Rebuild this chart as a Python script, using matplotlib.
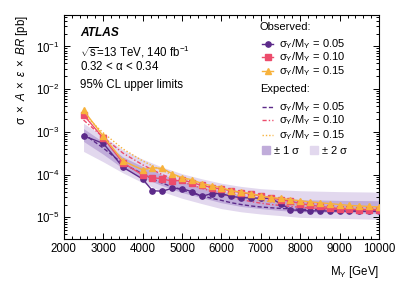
import matplotlib
matplotlib.use("Agg")
import matplotlib.pyplot as plt
from matplotlib.ticker import MultipleLocator, LogLocator, NullFormatter

# ---- data ------------------------------------------------------------------
MASS = [2500, 3000, 3500, 4000, 4250, 4500, 4750, 5000, 5250, 5500, 5750, 6000,
        6250, 6500, 6750, 7000, 7250, 7500, 7750, 8000, 8250, 8500, 8750, 9000,
        9250, 9500, 9750, 10000]

obs_005 = [8.1e-4, 5.4e-4, 1.5e-4, 7.9e-5, 4.2e-5, 4.1e-5, 4.8e-5, 4.7e-5, 4.0e-5,
           3.1e-5, 3.6e-5, 3.6e-5, 3.1e-5, 2.9e-5, 2.85e-5, 2.8e-5, 2.8e-5, 2.1e-5,
           1.5e-5, 1.45e-5, 1.42e-5, 1.42e-5, 1.4e-5, 1.4e-5, 1.4e-5, 1.38e-5,
           1.38e-5, 1.38e-5]
obs_010 = [2.5e-3, 7.2e-4, 1.9e-4, 9.8e-5, 8.5e-5, 8.0e-5, 7.0e-5, 7.5e-5, 6.5e-5,
           5.6e-5, 5.0e-5, 4.6e-5, 4.2e-5, 3.8e-5, 3.5e-5, 3.2e-5, 2.9e-5, 2.6e-5,
           2.4e-5, 2.1e-5, 1.95e-5, 1.8e-5, 1.7e-5, 1.6e-5, 1.55e-5, 1.5e-5,
           1.5e-5, 1.5e-5]
obs_015 = [3.2e-3, 8.0e-4, 2.1e-4, 1.3e-4, 1.45e-4, 1.4e-4, 1.05e-4, 8.5e-5, 7.6e-5,
           6.2e-5, 5.5e-5, 5.0e-5, 4.2e-5, 3.9e-5, 3.6e-5, 3.2e-5, 2.9e-5, 2.8e-5,
           2.6e-5, 2.45e-5, 2.3e-5, 2.2e-5, 2.1e-5, 2.0e-5, 1.9e-5, 1.85e-5,
           1.8e-5, 1.75e-5]

exp_005 = [9.0e-4, 4.2e-4, 1.8e-4, 1.05e-4, 8.0e-5, 6.3e-5, 5.2e-5, 4.4e-5, 3.7e-5,
           3.2e-5, 2.8e-5, 2.5e-5, 2.2e-5, 2.0e-5, 1.85e-5, 1.75e-5, 1.68e-5,
           1.62e-5, 1.58e-5, 1.55e-5, 1.52e-5, 1.5e-5, 1.48e-5, 1.46e-5, 1.45e-5,
           1.44e-5, 1.43e-5, 1.42e-5]
exp_010 = [1.9e-3, 7.5e-4, 3.2e-4, 1.7e-4, 1.3e-4, 1.0e-4, 8.2e-5, 6.8e-5, 5.7e-5,
           4.8e-5, 4.1e-5, 3.5e-5, 3.0e-5, 2.6e-5, 2.35e-5, 2.15e-5, 2.0e-5, 1.9e-5,
           1.8e-5, 1.72e-5, 1.66e-5, 1.62e-5, 1.58e-5, 1.55e-5, 1.53e-5, 1.51e-5,
           1.5e-5, 1.48e-5]
exp_015 = [2.6e-3, 9.5e-4, 4.0e-4, 2.1e-4, 1.6e-4, 1.25e-4, 1.0e-4, 8.3e-5, 6.9e-5,
           5.8e-5, 4.9e-5, 4.2e-5, 3.6e-5, 3.1e-5, 2.75e-5, 2.5e-5, 2.3e-5, 2.15e-5,
           2.0e-5, 1.9e-5, 1.82e-5, 1.76e-5, 1.7e-5, 1.66e-5, 1.62e-5, 1.6e-5,
           1.58e-5, 1.56e-5]

BAND_MASS = [2500, 3000, 3500, 4000, 4500, 5000, 5500, 6000, 6500, 7000, 7500,
             8000, 9000, 10000]
two_lo = [3.5e-4, 2.0e-4, 1.1e-4, 6.5e-5, 4.0e-5, 2.8e-5, 2.1e-5, 1.6e-5, 1.35e-5,
          1.2e-5, 1.1e-5, 1.0e-5, 9.5e-6, 9.0e-6]
two_hi = [1.6e-3, 8.0e-4, 3.8e-4, 2.3e-4, 1.5e-4, 1.05e-4, 8.0e-5, 6.3e-5, 5.3e-5,
          4.7e-5, 4.4e-5, 4.2e-5, 4.0e-5, 3.9e-5]
one_lo = [6.0e-4, 3.0e-4, 1.4e-4, 8.5e-5, 5.5e-5, 3.8e-5, 2.9e-5, 2.2e-5, 1.8e-5,
          1.6e-5, 1.45e-5, 1.35e-5, 1.3e-5, 1.25e-5]
one_hi = [1.2e-3, 5.8e-4, 2.6e-4, 1.55e-4, 1.0e-4, 7.0e-5, 5.2e-5, 4.1e-5, 3.4e-5,
          3.0e-5, 2.8e-5, 2.6e-5, 2.5e-5, 2.45e-5]

WIDTHS = ["0.05", "0.10", "0.15"]

# ---- style -----------------------------------------------------------------
PURPLE, PINK, ORANGE = "#5c2a8a", "#ec4c6c", "#f7b23c"
BAND1, BAND2 = "#c0acda", "#e2d8ee"
FS = 8.3
LFS = 8.0
plt.rcParams.update({
    "font.family": "Liberation Sans", "font.size": FS,
    "mathtext.fontset": "custom", "mathtext.rm": "Liberation Sans",
    "mathtext.it": "Liberation Sans:italic", "mathtext.bf": "Liberation Sans:bold",
})

fig = plt.figure(figsize=(3.99, 2.86), dpi=100)
ax = fig.add_axes([0.160, 0.164, 0.790, 0.784])

ax.fill_between(BAND_MASS, two_lo, two_hi, color=BAND2, lw=0, zorder=1)
ax.fill_between(BAND_MASS, one_lo, one_hi, color=BAND1, lw=0, zorder=2)

exp_styles = [(PURPLE, (0, (3, 1.6))), (PINK, (0, (3, 1.5, 1, 1.5))), (ORANGE, (0, (1, 1.4)))]
for vals, (c, ls) in zip([exp_005, exp_010, exp_015], exp_styles):
    ax.plot(MASS, vals, color=c, ls=ls, lw=1.0, zorder=3)

obs_styles = [(PURPLE, "o", 3.8), (PINK, "s", 3.8), (ORANGE, "^", 4.2)]
for vals, (c, m, ms) in zip([obs_005, obs_010, obs_015], obs_styles):
    ax.plot(MASS, vals, color=c, marker=m, ms=ms, lw=1.0, zorder=4)

ax.set_yscale("log")
ax.set_xlim(2000, 10000)
ax.set_ylim(3.1e-6, 0.55)
ax.xaxis.set_major_locator(MultipleLocator(1000))
ax.xaxis.set_minor_locator(MultipleLocator(200))
ax.yaxis.set_major_locator(LogLocator(base=10, numticks=10))
ax.yaxis.set_minor_locator(LogLocator(base=10, subs=range(2, 10), numticks=50))
ax.yaxis.set_minor_formatter(NullFormatter())
ax.tick_params(which="both", direction="in", top=True, right=True, labelsize=FS, pad=3)
ax.tick_params(which="major", length=4.5, width=0.7)
ax.tick_params(which="minor", length=2.5, width=0.7)
for s in ax.spines.values():
    s.set_linewidth(0.8)

ax.set_xlabel(r"M$_\mathregular{Y}$ [GeV]", loc="right", fontsize=FS, labelpad=6)
ax.set_ylabel(r"$\mathregular{\sigma}\ \times\ A\ \times\ \epsilon\ \times\ BR$ [pb]",
              loc="top", fontsize=FS, labelpad=4)

# ---- annotations -----------------------------------------------------------
tx = 0.051
ax.text(tx, 0.920, "ATLAS", transform=ax.transAxes, fontsize=FS + 0.3,
        fontweight="bold", style="italic", va="center")
ax.text(tx, 0.835, r"$\sqrt{\mathregular{s}}$=13 TeV, 140 fb$^{-1}$", transform=ax.transAxes,
        va="center")
ax.text(tx, 0.768, r"0.32 < $\mathregular{\alpha}$ < 0.34", transform=ax.transAxes, va="center")
ax.text(tx, 0.6875, "95% CL upper limits", transform=ax.transAxes, va="center")

# ---- hand-built legend ------------------------------------------------------
lx0, lx1, ltx = 0.629, 0.665, 0.683
ax.text(0.622, 0.946, "Observed:", transform=ax.transAxes, va="center", fontsize=LFS)
for (c, m, ms), w, y in zip(obs_styles, WIDTHS, [0.871, 0.8125, 0.750]):
    ax.plot([lx0, lx1], [y, y], color=c, lw=1.0, transform=ax.transAxes, zorder=5)
    ax.plot([(lx0 + lx1) / 2], [y], color=c, marker=m, ms=ms, transform=ax.transAxes, zorder=5)
    ax.text(ltx, y, r"$\mathregular{\sigma_Y/M_Y}$ = " + w, transform=ax.transAxes,
            va="center", fontsize=LFS)
ax.text(0.622, 0.670, "Expected:", transform=ax.transAxes, va="center", fontsize=LFS)
for (c, ls), w, y in zip(exp_styles, WIDTHS, [0.589, 0.531, 0.464]):
    ax.plot([lx0, lx1], [y, y], color=c, ls=ls, lw=1.0, transform=ax.transAxes, zorder=5)
    ax.text(ltx, y, r"$\mathregular{\sigma_Y/M_Y}$ = " + w, transform=ax.transAxes,
            va="center", fontsize=LFS)
for x0, col, lab in [(0.629, BAND1, r"$\pm$ 1 $\mathregular{\sigma}$"),
                     (0.781, BAND2, r"$\pm$ 2 $\mathregular{\sigma}$")]:
    ax.add_patch(plt.Rectangle((x0, 0.378), 0.026, 0.038, color=col,
                               transform=ax.transAxes, zorder=5))
    ax.text(x0 + 0.034, 0.397, lab, transform=ax.transAxes, va="center", fontsize=LFS)

fig.savefig("out.png", dpi=100, facecolor="white")
